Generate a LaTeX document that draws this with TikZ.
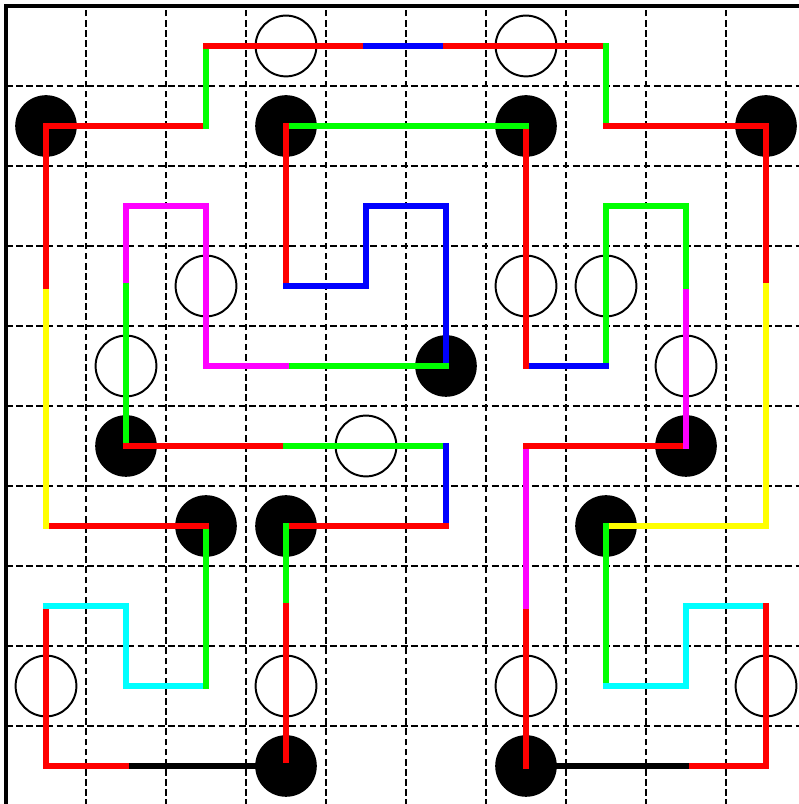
\documentclass[tikz,border=0pt]{standalone}
\definecolor{rgbmagenta}{rgb}{1,0,1}
\definecolor{rgbcyan}{rgb}{0,1,1}
\definecolor{rgbyellow}{rgb}{1,1,0}
\begin{document}
\begin{tikzpicture}[
    gitter/.style={black, line width=0.45pt, dash pattern=on 2.4pt off 1.2pt},
    weiss/.style={circle, draw=black, line width=0.7pt, inner sep=0pt, minimum size=0.76cm},
    schwarz/.style={circle, fill=black, inner sep=0pt, minimum size=0.77cm},
    weg/.style={line width=1.8pt, line cap=rect, line join=miter}
]
    \useasboundingbox (-0.075,0.025) rectangle (9.9,10.075);

    % Zellmittelpunkte
    \foreach \c in {0,...,9}
        \foreach \r in {0,...,9}
            \coordinate (p\c\r) at (\c+0.5, 9.5-\r);

    % Gitter
    \foreach \i in {1,...,9} {
        \draw[gitter] (\i,0) -- (\i,10);
        \draw[gitter] (0,\i) -- (10,\i);
    }

    % Kreise
    \foreach \c/\r in {3/0,6/0,2/3,6/3,7/3,1/4,8/4,4/5,0/8,3/8,6/8,9/8}
        \node[weiss] (w\c\r) at (p\c\r) {};
    \foreach \c/\r in {0/1,3/1,6/1,9/1,5/4,1/5,8/5,2/6,3/6,7/6,3/9,6/9}
        \node[schwarz] (s\c\r) at (p\c\r) {};

    % Schleife
    \draw[weg, red] (p01) -- (p21);
    \draw[weg, green] (p21) -- (p20);
    \draw[weg, red] (p20) -- (p40);
    \draw[weg, blue] (p40) -- (p50);
    \draw[weg, red] (p50) -- (p70);
    \draw[weg, green] (p70) -- (p71);
    \draw[weg, red] (p71) -- (p91) -- (p93);
    \draw[weg, rgbyellow] (p93) -- (p96) -- (p76);
    \draw[weg, green] (p76) -- (p78);
    \draw[weg, rgbcyan] (p78) -- (p88) -- (p87) -- (p97);
    \draw[weg, red] (p97) -- (p99) -- (p89);
    \draw[weg, black] (p89) -- (p69);
    \draw[weg, red] (p69) -- (p67);
    \draw[weg, rgbmagenta] (p67) -- (p65);
    \draw[weg, red] (p65) -- (p85);
    \draw[weg, rgbmagenta] (p85) -- (p83);
    \draw[weg, green] (p83) -- (p82) -- (p72) -- (p74);
    \draw[weg, blue] (p74) -- (p64);
    \draw[weg, red] (p64) -- (p61);
    \draw[weg, green] (p61) -- (p31);
    \draw[weg, red] (p31) -- (p33);
    \draw[weg, blue] (p33) -- (p43) -- (p42) -- (p52) -- (p54);
    \draw[weg, green] (p54) -- (p34);
    \draw[weg, rgbmagenta] (p34) -- (p24) -- (p22) -- (p12) -- (p13);
    \draw[weg, green] (p13) -- (p15);
    \draw[weg, red] (p15) -- (p35);
    \draw[weg, green] (p35) -- (p55);
    \draw[weg, blue] (p55) -- (p56);
    \draw[weg, red] (p56) -- (p36);
    \draw[weg, green] (p36) -- (p37);
    \draw[weg, red] (p37) -- (p39);
    \draw[weg, black] (p39) -- (p19);
    \draw[weg, red] (p19) -- (p09) -- (p07);
    \draw[weg, rgbcyan] (p07) -- (p17) -- (p18) -- (p28);
    \draw[weg, green] (p28) -- (p26);
    \draw[weg, red] (p26) -- (p06);
    \draw[weg, rgbyellow] (p06) -- (p03);
    \draw[weg, red] (p03) -- (p01);

    % Rand
    \draw[line width=1.3pt] (0,0) -- (0,10) -- (10,10);
\end{tikzpicture}
\end{document}
